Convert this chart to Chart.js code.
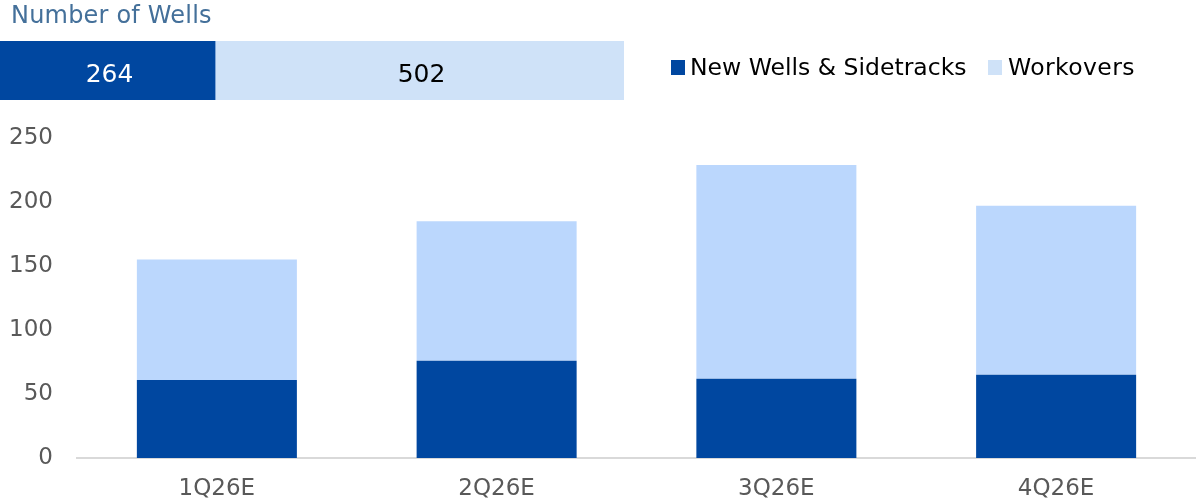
<!DOCTYPE html>
<html>
<head>
<meta charset="utf-8">
<script src="https://cdn.jsdelivr.net/npm/chart.js@4.4.1/dist/chart.umd.min.js"></script>
<style>
  body { margin: 0; background: #fff; }
  #page { position: relative; width: 1196px; height: 502px; overflow: hidden; }
  #mainChart { position: absolute; left: 0; top: 0; }
  #title { position: absolute; left: 11px; top: 3px; font: 24px "DejaVu Sans"; line-height: 24px; color: #44709a; letter-spacing: 0.2px; }
  #totalBar { position: absolute; left: 0; top: 41px; }
  .legend-box { position: absolute; width: 14px; height: 15px; top: 60px; }
  .legend-text { position: absolute; top: 56px; font: 23.5px "DejaVu Sans"; line-height: 23px; color: #000; white-space: nowrap; }
</style>
</head>
<body>
<div id="page">
  <canvas id="mainChart" width="1196" height="502"></canvas>
  <div id="title">Number of Wells</div>
  <canvas id="totalBar" width="624" height="59"></canvas>
  <div class="legend-box" style="left:671px;background:#0047a0"></div>
  <div class="legend-text" id="legend0" style="left:690px"></div>
  <div class="legend-box" style="left:988px;background:#cfe2f8"></div>
  <div class="legend-text" id="legend1" style="left:1008px;letter-spacing:0.4px"></div>
</div>
<script>
// values
const quarters = ['1Q26E', '2Q26E', '3Q26E', '4Q26E'];
const seriesNames = ['New Wells & Sidetracks', 'Workovers'];
const newWells = [61, 76, 62, 65];
const workovers = [94, 109, 167, 132];
const totals = [264, 502];
const yMax = 250;
const yStep = 50;

const darkBlue = '#0047a0';
const lightBlue = '#bbd7fd';
const paleBlue = '#cfe2f8';
const fontFamily = 'DejaVu Sans';

document.getElementById('legend0').textContent = seriesNames[0];
document.getElementById('legend1').textContent = seriesNames[1];

// main stacked bars
new Chart(document.getElementById('mainChart'), {
  type: 'bar',
  data: {
    labels: quarters,
    datasets: [
      { label: seriesNames[0], data: newWells, backgroundColor: darkBlue },
      { label: seriesNames[1], data: workovers, backgroundColor: lightBlue }
    ]
  },
  options: {
    responsive: false,
    animation: false,
    layout: { padding: { top: 138, right: 0, bottom: 0, left: 0 } },
    plugins: { legend: { display: false }, tooltip: { enabled: false } },
    datasets: { bar: { categoryPercentage: 1, barPercentage: 0.572 } },
    scales: {
      x: {
        stacked: true,
        grid: { display: false, drawTicks: false },
        border: { display: true, color: '#d9d9d9', width: 2 },
        ticks: { color: '#595959', font: { family: fontFamily, size: 23 }, padding: 17 },
        afterFit: s => { s.height = 44; }
      },
      y: {
        stacked: true,
        min: 0,
        max: yMax,
        grid: { display: false, drawTicks: false },
        border: { display: false },
        ticks: { stepSize: yStep, color: '#595959', font: { family: fontFamily, size: 23 }, padding: 24 },
        afterFit: s => { s.width = 77; }
      }
    }
  }
});

// totals bar on top, split in proportion
const totalLabels = {
  id: 'totalLabels',
  afterDatasetsDraw: chart => {
    let ctx = chart.ctx;
    ctx.save();
    ctx.font = `25px "${fontFamily}"`;
    ctx.textAlign = 'center';
    ctx.textBaseline = 'alphabetic';
    chart.data.datasets.forEach((ds, i) => {
      let bar = chart.getDatasetMeta(i).data[0];
      ctx.fillStyle = i == 0 ? '#fff' : '#000';
      ctx.fillText(ds.data[0], (bar.base + bar.x) / 2 + 2, 41);
    });
    ctx.restore();
  }
};

new Chart(document.getElementById('totalBar'), {
  type: 'bar',
  data: {
    labels: [''],
    datasets: [
      { data: [totals[0]], backgroundColor: darkBlue },
      { data: [totals[1]], backgroundColor: paleBlue }
    ]
  },
  options: {
    indexAxis: 'y',
    responsive: false,
    animation: false,
    layout: { padding: 0 },
    plugins: { legend: { display: false }, tooltip: { enabled: false } },
    datasets: { bar: { categoryPercentage: 1, barPercentage: 1 } },
    scales: {
      x: { stacked: true, display: false, min: 0, max: totals[0] + totals[1] },
      y: { stacked: true, display: false }
    }
  },
  plugins: [totalLabels]
});
</script>
</body>
</html>
